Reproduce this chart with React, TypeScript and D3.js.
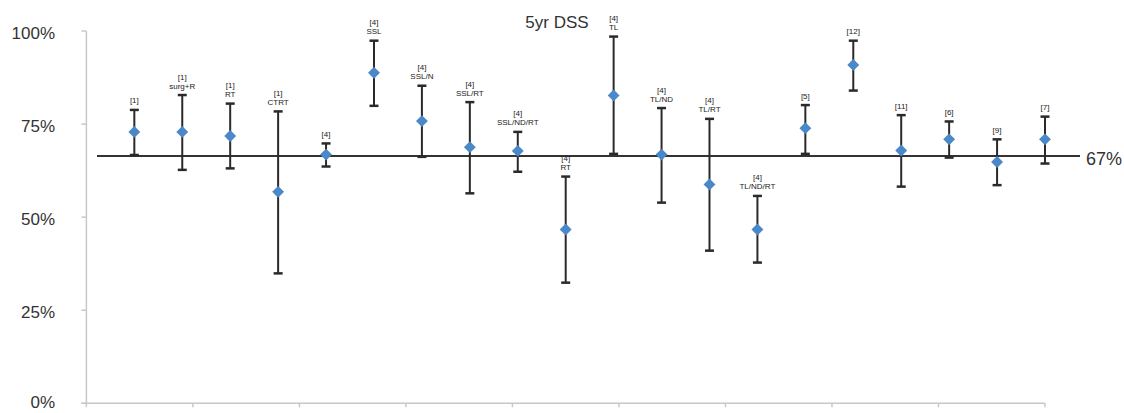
import React from "react";
import * as d3 from "d3";

const labelTop: string[] = ["[1]", "[1]", "[1]", "[1]", "[4]", "[4]", "[4]", "[4]", "[4]", "[4]", "[4]", "[4]", "[4]", "[4]", "[5]", "[12]", "[11]", "[6]", "[9]", "[7]"];
const labelSub: string[] = ["", "surg+R", "RT", "CTRT", "", "SSL", "SSL/N", "SSL/RT", "SSL/ND/RT", "RT", "TL", "TL/ND", "TL/RT", "TL/ND/RT", "", "", "", "", "", ""];
const means: number[] = [72.9, 72.9, 71.8, 56.8, 66.8, 88.8, 75.8, 68.8, 67.8, 46.7, 82.7, 66.8, 58.8, 46.7, 73.9, 90.9, 67.9, 70.9, 64.8, 70.9];
const upper: number[] = [78.8, 82.8, 80.5, 78.4, 69.8, 97.4, 85.3, 80.9, 72.9, 60.9, 98.5, 79.3, 76.4, 55.7, 80.1, 97.4, 77.4, 75.7, 70.9, 77.0];
const lower: number[] = [66.7, 62.7, 63.1, 34.9, 63.6, 79.9, 66.2, 56.4, 62.2, 32.4, 67.0, 53.9, 41.0, 37.8, 67.0, 84.0, 58.2, 66.0, 58.6, 64.4];
const yTicks: number[] = [0, 25, 50, 75, 100];
const refValue = 66.4;
const refLabel = "67%";
const title = "5yr DSS";
const xTickIntervals = 9;

export default function App() {
  const W = 1124;
  const H = 413;
  const x = d3.scaleLinear().domain([0, means.length]).range([86.4, 1045]);
  const y = d3.scaleLinear().domain([0, 100]).range([403.3, 31]);
  const xTicks = d3.range(0, xTickIntervals + 1).map((k) => (k * means.length) / xTickIntervals);
  const font = "'Liberation Sans', Arial, Helvetica, sans-serif";
  const diamond = d3.symbol().type(d3.symbolDiamond2).size(90)();

  return (
    <svg width={W} height={H} style={{ position: "absolute", left: 0, top: 0, background: "#fff" }} fontFamily={font}>
      <text x={557} y={22} fontSize={17} fill="#333" textAnchor="middle" dominantBaseline="central">{title}</text>
      {/* y axis */}
      <line x1={x(0)} x2={x(0)} y1={y(100)} y2={y(0)} stroke="#c8c8c8" strokeWidth={1.5} />
      {yTicks.map((t) => (
        <g key={"yt" + t}>
          <line x1={x(0) - 5} x2={x(0)} y1={y(t)} y2={y(t)} stroke="#c8c8c8" strokeWidth={1.5} />
          <text x={55} y={Math.min(y(t) + 2, 402)} fontSize={17} fill="#333" textAnchor="end" dominantBaseline="central">{t + "%"}</text>
        </g>
      ))}
      {/* x axis */}
      <line x1={x(0) - 5} x2={x(means.length)} y1={y(0)} y2={y(0)} stroke="#c8c8c8" strokeWidth={1.5} />
      {xTicks.map((t, i) => (
        <line key={"xt" + i} x1={x(t)} x2={x(t)} y1={y(0)} y2={y(0) + 4} stroke="#c8c8c8" strokeWidth={1.5} />
      ))}
      {/* reference line */}
      <line x1={97} x2={1080} y1={y(refValue)} y2={y(refValue)} stroke="#333" strokeWidth={2} />
      <text x={1086} y={y(refValue) + 3} fontSize={18} fill="#333" dominantBaseline="central">{refLabel}</text>
      {/* error bars */}
      {means.map((m, i) => {
        const cx = x(i + 1);
        return (
          <g key={"eb" + i}>
            <line x1={cx} x2={cx} y1={y(upper[i])} y2={y(lower[i])} stroke="#2a2a2a" strokeWidth={2} />
            <line x1={cx - 4.5} x2={cx + 4.5} y1={y(upper[i])} y2={y(upper[i])} stroke="#2a2a2a" strokeWidth={2.5} />
            <line x1={cx - 4.5} x2={cx + 4.5} y1={y(lower[i])} y2={y(lower[i])} stroke="#2a2a2a" strokeWidth={2.5} />
          </g>
        );
      })}
      {means.map((m, i) => (
        <path key={"pt" + i} d={diamond || ""} transform={`translate(${x(i + 1)},${y(m)})`} fill="#4a88c8" />
      ))}
      {means.map((m, i) => {
        const cx = x(i + 1);
        const top = y(upper[i]);
        const lines = labelSub[i] ? [labelTop[i], labelSub[i]] : [labelTop[i]];
        return (
          <g key={"lb" + i}>
            {lines.map((s, j) => (
              <text key={j} x={cx} y={top - 9 - (lines.length - 1 - j) * 9} fontSize={8} fill="#222" textAnchor="middle" dominantBaseline="central">{s}</text>
            ))}
          </g>
        );
      })}
    </svg>
  );
}
